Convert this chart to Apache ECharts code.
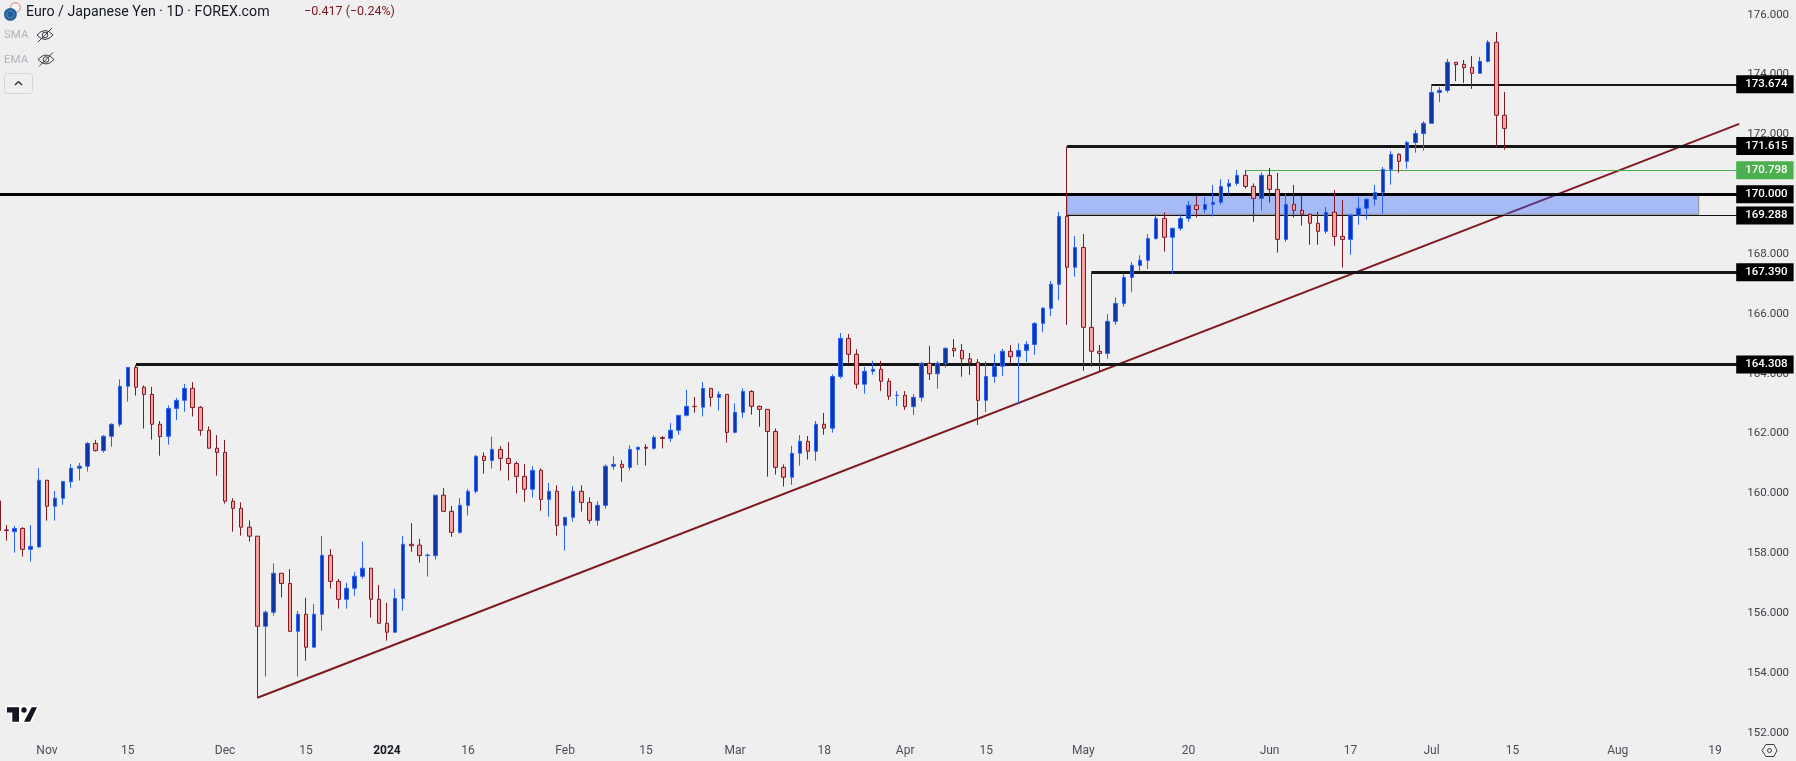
<!DOCTYPE html>
<html>
<head>
<meta charset="utf-8">
<title>Euro / Japanese Yen</title>
<style>
html,body{margin:0;padding:0;background:#efefef;overflow:hidden}
/* first bar sits partly off the left edge, so the chart starts a bit off page */
#chart{position:absolute;left:-6px;top:0;width:1802px;height:761px}
</style>
<script src="https://cdn.jsdelivr.net/npm/echarts@6/dist/echarts.min.js"></script>
</head>
<body>
<div id="chart"></div>
<script>
// daily bars
const opens=[
159.75,158.78,158.72,158.83,158.13,158.21,160.44,159.57,159.84,160.39,
160.84,160.91,161.67,161.43,161.91,162.31,163.58,164.21,163.55,163.31,
162.31,161.91,162.84,163.11,163.51,162.88,162.11,161.51,161.37,159.74,
159.50,158.87,158.57,155.56,156.03,157.33,156.99,155.39,155.96,154.86,
155.96,157.93,157.06,156.46,156.83,157.23,157.50,156.46,155.66,155.36,
156.49,158.30,158.27,157.92,157.92,159.94,159.40,158.70,159.60,160.07,
161.24,161.10,161.47,161.17,161.00,160.57,160.14,160.77,159.80,160.07,
158.93,159.20,160.07,159.70,159.10,159.60,160.91,160.97,160.87,161.47,
161.54,161.51,161.87,161.84,162.11,162.61,162.91,162.88,163.51,163.21,
163.31,162.04,162.71,163.41,162.91,162.81,162.07,160.87,160.54,161.34,
161.74,161.41,162.31,162.18,163.91,165.18,164.65,163.65,164.08,164.15,
163.75,163.27,163.28,162.90,163.21,164.35,164.00,164.35,164.85,164.78,
164.50,164.38,163.11,163.91,164.25,164.75,164.57,164.78,164.98,165.68,
166.19,166.99,169.26,167.56,168.22,165.55,164.75,164.68,165.75,166.35,
167.22,167.62,167.79,168.52,169.19,168.56,168.86,169.19,169.63,169.49,
169.66,169.73,170.26,170.36,170.63,170.26,169.86,170.63,170.16,168.49,
169.66,169.46,169.33,169.03,168.76,169.40,168.59,168.49,169.30,169.53,
169.83,170.06,170.83,171.33,171.10,171.73,172.03,172.37,173.40,173.47,
174.41,174.34,174.24,174.04,174.44,175.08,172.64];
const closes=[
158.76,158.76,158.83,158.13,158.23,160.44,159.57,159.84,160.40,160.84,
160.91,161.67,161.43,161.91,162.31,163.58,164.21,163.55,163.31,162.31,
161.90,162.84,163.11,163.51,162.87,162.11,161.51,161.37,159.74,159.50,
158.87,158.57,155.56,156.03,157.33,156.99,155.39,155.96,154.86,155.96,
157.93,157.06,156.46,156.83,157.23,157.50,156.46,155.66,155.36,156.49,
158.30,158.25,157.92,157.94,159.94,159.40,158.70,159.60,160.07,161.24,
161.10,161.47,161.17,161.00,160.57,160.14,160.77,159.80,160.07,158.93,
159.20,160.07,159.70,159.10,159.60,160.91,160.97,160.87,161.47,161.54,
161.51,161.87,161.84,162.11,162.61,162.91,162.90,163.51,163.21,163.31,
162.04,162.71,163.41,162.91,162.81,162.07,160.87,160.54,161.34,161.74,
161.41,162.31,162.18,163.91,165.18,164.65,163.65,164.08,164.15,163.75,
163.25,163.28,162.90,163.21,164.35,164.00,164.35,164.85,164.77,164.50,
164.38,163.11,163.91,164.25,164.75,164.57,164.78,164.98,165.68,166.19,
166.99,169.26,167.56,168.22,165.55,164.75,164.68,165.75,166.35,167.22,
167.62,167.79,168.52,169.19,168.56,168.86,169.19,169.63,169.49,169.66,
169.73,170.26,170.36,170.63,170.26,169.86,170.63,170.16,168.49,169.66,
169.46,169.33,169.03,168.76,169.40,168.59,168.49,169.30,169.53,169.83,
170.06,170.83,171.33,171.10,171.73,172.03,172.37,173.40,173.47,174.41,
174.33,174.23,174.04,174.44,175.08,172.64,172.20];
const highs=[
159.80,158.94,158.91,158.87,158.94,160.85,160.44,160.08,160.40,160.98,
161.02,161.72,161.79,161.95,162.34,163.81,164.21,164.30,163.61,163.56,
162.42,162.94,163.19,163.66,163.72,162.92,162.24,161.95,161.79,159.84,
159.70,159.10,158.57,156.09,157.66,157.33,157.47,156.07,156.51,156.30,
158.58,158.14,157.14,157.01,157.37,158.39,157.50,156.94,156.34,156.81,
158.58,159.01,158.48,157.99,159.94,160.18,159.58,159.84,160.14,161.28,
161.37,161.89,161.58,161.71,161.07,160.98,160.91,160.84,160.35,160.27,
159.20,160.24,160.27,159.87,159.74,160.97,161.24,161.11,161.61,161.57,
161.64,161.94,161.91,162.35,162.61,163.46,163.22,163.72,163.51,163.41,
163.31,163.01,163.51,163.45,162.94,162.81,162.17,160.97,161.59,161.95,
161.92,162.42,162.69,163.98,165.36,165.33,164.82,164.23,164.43,164.43,
163.85,163.42,163.42,163.32,164.38,164.93,164.42,164.88,165.16,164.99,
164.69,164.49,164.42,164.66,164.83,164.96,165.02,165.09,165.73,166.23,
167.10,169.41,171.60,168.60,168.67,167.39,164.96,165.99,166.55,167.33,
167.73,167.96,168.67,169.33,169.39,168.89,169.33,169.77,169.94,169.91,
170.31,170.50,170.50,170.81,170.80,170.36,170.73,170.88,170.71,170.01,
170.31,169.97,169.33,169.41,169.57,170.14,169.81,169.33,169.91,169.87,
170.31,170.91,171.44,171.37,171.78,172.14,172.44,173.68,173.58,174.52,
174.42,174.49,174.62,174.59,175.15,175.42,173.42];
const lows=[
158.70,158.42,158.02,157.89,157.72,158.19,159.09,159.09,159.62,160.19,
160.43,160.73,161.40,161.36,161.56,162.23,163.07,163.27,162.17,161.80,
161.26,161.63,162.45,162.73,162.57,161.93,161.51,160.59,159.66,158.72,
158.59,158.39,153.17,153.88,155.91,156.52,155.39,153.88,154.41,154.86,
155.41,156.82,156.15,156.15,156.58,157.15,155.85,155.66,155.08,155.36,
156.08,158.05,157.69,157.22,157.79,159.39,158.55,158.65,159.26,160.00,
160.66,160.83,160.76,160.43,160.00,159.72,159.86,159.42,159.22,158.59,
158.09,159.06,159.39,158.99,158.92,159.49,160.79,160.39,160.78,160.95,
160.93,161.46,161.50,161.72,161.96,162.57,162.70,162.57,162.90,162.77,
161.70,162.01,162.53,162.63,162.23,160.56,160.63,160.23,160.29,160.93,
161.13,161.09,161.96,162.03,163.84,164.37,163.50,163.33,163.97,163.43,
163.13,162.92,162.79,162.62,163.07,163.79,163.50,164.20,164.56,163.90,
163.96,162.29,162.72,163.70,163.92,164.36,163.01,164.39,164.63,165.39,
165.93,166.46,165.63,167.24,164.10,164.23,164.07,164.50,165.64,166.24,
166.74,167.42,167.50,168.48,168.08,167.33,168.78,169.08,169.22,169.38,
169.26,169.65,169.99,170.29,170.19,169.08,169.45,169.72,168.05,168.41,
169.22,168.95,168.31,168.31,168.68,168.28,167.55,167.98,168.98,169.15,
169.62,169.34,170.32,170.72,170.85,171.39,171.46,172.37,173.08,173.40,
173.78,173.72,173.52,174.04,174.40,171.55,171.49];

// the axis runs on past the last bar into the empty space on the right
const barCount=216;
const xTickBars=[6,16,28,38,48,58,70,80,91,102,112,122,134,147,157,167,177,187,200,212];
const xTickLabels=['Nov','15','Dec','15','2024','16','Feb','15','Mar','18','Apr','15','May','20','Jun','17','Jul','15','Aug','19'];
const yTicks=[152,154,156,158,160,162,164,166,168,170,172,174,176];

// horizontal levels: price, first bar
const levelPrices=[173.674,171.615,170.798,170,169.288,167.39,164.308];
const levelStarts=[177,132,154,0,132,135,17];
const levelColors=['#161616','#161616','#4caf50','#000000','#111111','#161616','#161616'];
const levelWidths=[2,3,1,3,1,3,3];

const zoneBars=[132,210];
const zonePrices=[170,169.33];

const trendBars=[32,215];
const trendPrices=[153.17,172.35];

var bars=[]
for(var i=0;i<barCount;i++){
  bars.push(String(i))
}
var candles=opens.map(function(o,i){
  return [o,closes[i],lows[i],highs[i]]
})
var markLines=levelPrices.map(function(p,i){
  return [
    {coord:[String(levelStarts[i]),p],lineStyle:{color:levelColors[i],width:levelWidths[i],type:'solid'},
      label:{backgroundColor:i==2?'#4caf50':'#000000',formatter:p.toFixed(3)}},
    {coord:[String(barCount-1),p]}
  ]
})
var trendData=trendBars.map(function(b,i){
  return [String(b),trendPrices[i]]
})

// small decorations, none of them data
function poly(points,style){
  return {type:'polygon',silent:true,z:100,shape:{points:points},style:style}
}
function lineEl(x1,y1,x2,y2,color,w){
  return {type:'line',silent:true,z:100,shape:{x1:x1,y1:y1,x2:x2,y2:y2},style:{stroke:color,lineWidth:w}}
}
function curve(x1,y1,cx,cy,x2,y2,color){
  return {type:'bezierCurve',silent:true,z:100,shape:{x1:x1,y1:y1,x2:x2,y2:y2,cpx1:cx,cpy1:cy},style:{fill:null,stroke:color,lineWidth:1}}
}
function eye(cx,cy){
  var c='#3a3d45'
  return [
    curve(cx-8,cy,cx,cy-9,cx+8,cy,c),
    curve(cx-8,cy,cx,cy+9,cx+8,cy,c),
    {type:'circle',silent:true,z:100,shape:{cx:cx,cy:cy,r:2.8},style:{fill:null,stroke:c,lineWidth:1}},
    lineEl(cx-7,cy+7,cx+7,cy-7,c,1)
  ]
}
var logoBar=[[7,707.3],[19,707.3],[19,721.7],[12.3,721.7],[12.3,712.5],[7,712.5]]
var logoSlash=[[31.7,707.3],[37,707.3],[30,721.7],[24,721.7]]
var decorations=[
  {type:'circle',silent:true,z:100,shape:{cx:15.5,cy:7.5,r:4.8},style:{fill:'#f6f6f6',stroke:'#e57373',lineWidth:1}},
  {type:'circle',silent:true,z:100,shape:{cx:10.4,cy:14.4,r:6.4},style:{fill:'#1f5fa8'}},
  {type:'circle',silent:true,z:100,shape:{cx:10.4,cy:14.4,r:3.6},style:{fill:null,stroke:'#e3c33a',lineWidth:1,lineDash:[1,1.2]}},
  {type:'text',silent:true,z:100,x:26,y:12,style:{text:'Euro / Japanese Yen · 1D · FOREX.com',font:'14.2px Roboto',fill:'#131722',textVerticalAlign:'middle'}},
  {type:'text',silent:true,z:100,x:304,y:12,style:{text:'−0.417 (−0.24%)',font:'12.5px Roboto',fill:'#801922',textVerticalAlign:'middle'}},
  {type:'text',silent:true,z:100,x:4,y:35.5,style:{text:'SMA',font:'11.5px Roboto',fill:'#b2b5be',textVerticalAlign:'middle'}},
  {type:'text',silent:true,z:100,x:4,y:60,style:{text:'EMA',font:'11.5px Roboto',fill:'#b2b5be',textVerticalAlign:'middle'}},
  {type:'rect',silent:true,z:100,shape:{x:4.5,y:73.5,width:28,height:20,r:3},style:{fill:null,stroke:'#d4d4d6',lineWidth:1}},
  lineEl(15,85,18.5,81.5,'#333333',1.5),
  lineEl(18.5,81.5,22,85,'#333333',1.5),
  // tv logo
  {type:'rect',silent:true,z:99,shape:{x:5,y:705,width:12,height:5},style:{fill:'#ffffff'}},
  {type:'polygon',silent:true,z:99,shape:{points:[[17,705],[40,705],[32,723],[11,723],[11,710],[17,710]]},style:{fill:'#ffffff'}},
  poly(logoBar,{fill:'#131722'}),
  poly(logoSlash,{fill:'#131722'}),
  {type:'circle',silent:true,z:100,shape:{cx:24,cy:710,r:2.7},style:{fill:'#131722'}},
  // settings
  poly([[1762,750.5],[1766,744.5],[1774,744.5],[1777,750.5],[1774,756.5],[1766,756.5]],{fill:null,stroke:'#3a3d45',lineWidth:1}),
  {type:'circle',silent:true,z:100,shape:{cx:1769.5,cy:750.5,r:2},style:{fill:null,stroke:'#3a3d45',lineWidth:1}}
].concat(eye(45,35),eye(46,59.5))

var chart=echarts.init(document.getElementById('chart'),null,{renderer:'canvas'})
chart.setOption({
  animation:false,
  backgroundColor:'#efefef',
  textStyle:{fontFamily:'Roboto'},
  grid:{left:0.25,top:0,width:1749,height:738,containLabel:false},
  xAxis:{
    type:'category',
    data:bars,
    boundaryGap:true,
    axisLine:{show:false},
    axisTick:{show:false},
    splitLine:{show:false},
    axisLabel:{
      margin:7,
      fontSize:12,
      color:'#4a4e59',
      interval:function(i){return xTickBars.includes(i)},
      formatter:function(v,i){
        var l=xTickLabels[xTickBars.indexOf(i)]
        return l=='2024'?'{b|2024}':l
      },
      rich:{b:{fontSize:12,fontWeight:'bold',color:'#131722'}}
    }
  },
  yAxis:{
    type:'value',
    position:'right',
    min:151.825,
    max:176.491,
    axisLine:{show:false},
    axisTick:{show:false},
    splitLine:{show:false},
    axisLabel:{
      margin:4,
      fontSize:11.5,
      color:'#3c3f48',
      customValues:yTicks,
      formatter:function(v){return v.toFixed(3)}
    }
  },
  series:[
    {
      type:'line',
      z:0,
      data:trendData,
      symbol:'none',
      silent:true,
      clip:false,
      lineStyle:{color:'#801922',width:2}
    },
    {
      type:'candlestick',
      z:2,
      data:candles,
      barWidth:4,
      silent:true,
      itemStyle:{
        color:'#0f37a5',
        color0:'#f7a1a1',
        borderColor:'#2962ff',
        borderColor0:'#801922',
        borderColorDoji:'#801922',
        borderWidth:1
      },
      markArea:{
        silent:true,
        z:1,
        itemStyle:{color:'rgba(41,98,255,0.37)',borderColor:'#8a8a8a',borderWidth:1},
        data:[[{coord:[String(zoneBars[0]),zonePrices[0]]},{coord:[String(zoneBars[1]),zonePrices[1]]}]]
      },
      markLine:{
        silent:true,
        z:1,
        symbol:'none',
        animation:false,
        label:{
          show:true,
          position:'end',
          distance:-3,
          color:'#ffffff',
          fontFamily:'Roboto',
          fontSize:11.5,
          fontWeight:500,
          padding:[4,6,2,9]
        },
        data:markLines
      }
    }
  ],
  graphic:[{type:'group',x:6,y:0,children:decorations}]
})
</script>
</body>
</html>
